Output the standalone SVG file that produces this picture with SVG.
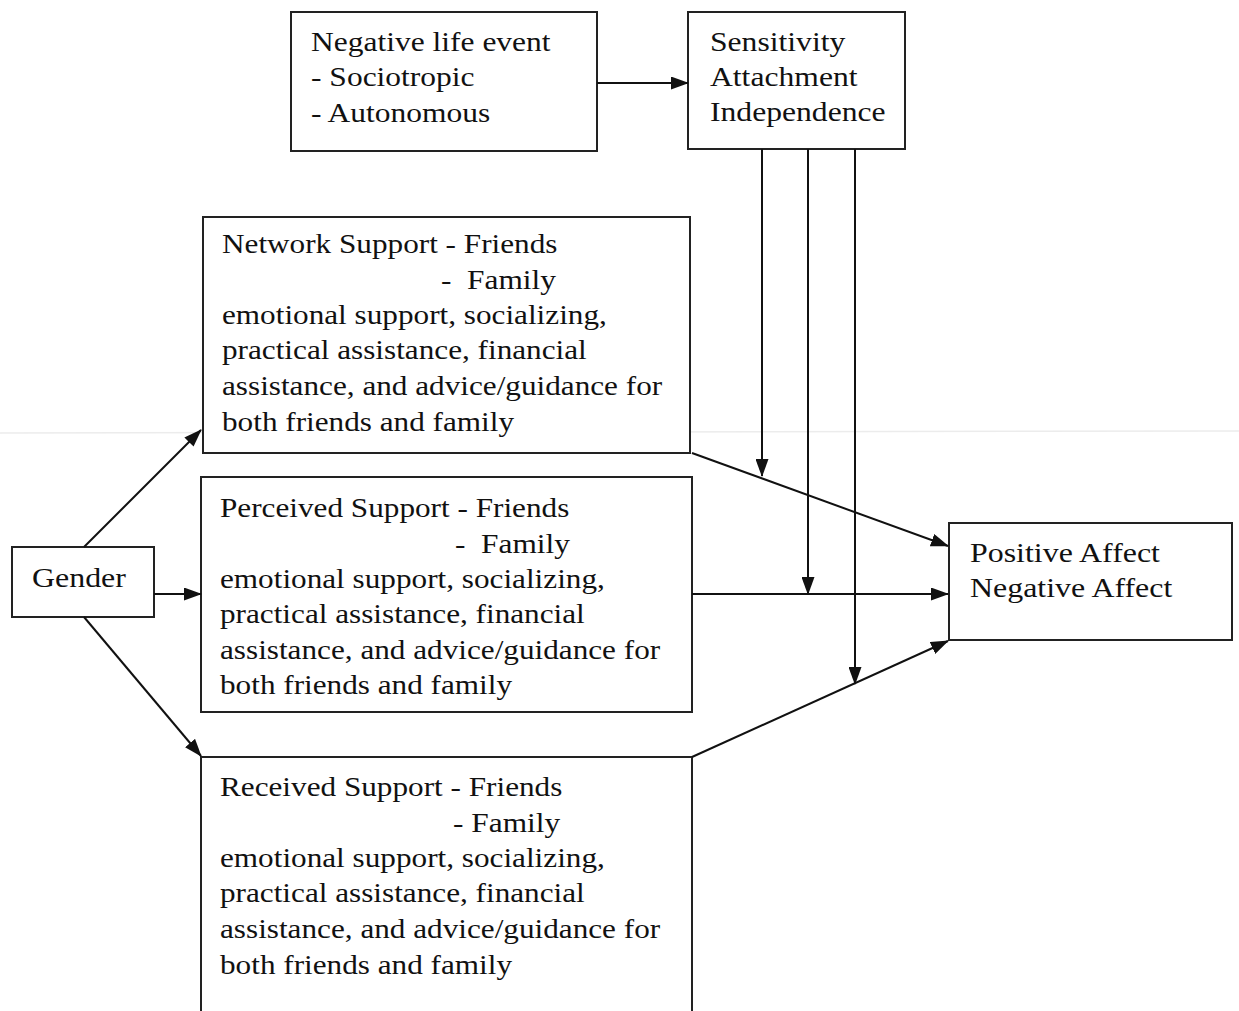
<svg xmlns="http://www.w3.org/2000/svg" width="1239" height="1011" viewBox="0 0 1239 1011">
<defs>
<marker id="ah" markerUnits="userSpaceOnUse" markerWidth="18" markerHeight="13" refX="17" refY="6.5" orient="auto">
<path d="M0,0 L18,6.5 L0,13 Z" fill="#111"/>
</marker>
<style>
.box{fill:#fff;stroke:#222;stroke-width:2}
.t{font-family:"Liberation Serif","Times New Roman",serif;font-size:28px;fill:#111}
.c{stroke:#111;stroke-width:2;fill:none}
</style>
</defs>
<rect width="1239" height="1011" fill="#fff"/>
<line x1="0" y1="433" x2="1239" y2="431" stroke="#ececec" stroke-width="1.5"/>
<g id="negative-life-event">
<rect class="box" x="291" y="12" width="306" height="139"/>
<text class="t" transform="translate(311,51) scale(1.125,1)">Negative life event</text>
<text class="t" transform="translate(311,86) scale(1.125,1)">- Sociotropic</text>
<text class="t" transform="translate(311,122) scale(1.125,1)">- Autonomous</text>
</g>
<g id="sensitivity">
<rect class="box" x="688" y="12" width="217" height="137"/>
<text class="t" transform="translate(710,51) scale(1.13,1)">Sensitivity</text>
<text class="t" transform="translate(710,86) scale(1.13,1)">Attachment</text>
<text class="t" transform="translate(710,121) scale(1.13,1)">Independence</text>
</g>
<g id="network-support">
<rect class="box" x="203" y="217" width="487" height="236"/>
<text class="t" transform="translate(222,253) scale(1.115,1)">Network Support - Friends</text>
<text class="t" xml:space="preserve" transform="translate(441,289) scale(1.12,1)">-  Family</text>
<text class="t" transform="translate(222,324) scale(1.115,1)">emotional support, socializing,</text>
<text class="t" transform="translate(222,359) scale(1.115,1)">practical assistance, financial</text>
<text class="t" transform="translate(222,395) scale(1.115,1)">assistance, and advice/guidance for</text>
<text class="t" transform="translate(222,431) scale(1.115,1)">both friends and family</text>
</g>
<g id="perceived-support">
<rect class="box" x="201" y="477" width="491" height="235"/>
<text class="t" transform="translate(220,517) scale(1.115,1)">Perceived Support - Friends</text>
<text class="t" xml:space="preserve" transform="translate(455,553) scale(1.12,1)">-  Family</text>
<text class="t" transform="translate(220,588) scale(1.115,1)">emotional support, socializing,</text>
<text class="t" transform="translate(220,623) scale(1.115,1)">practical assistance, financial</text>
<text class="t" transform="translate(220,659) scale(1.115,1)">assistance, and advice/guidance for</text>
<text class="t" transform="translate(220,694) scale(1.115,1)">both friends and family</text>
</g>
<g id="received-support">
<path class="box" d="M201,1012 L201,757 L692,757 L692,1012"/>
<text class="t" transform="translate(220,796) scale(1.115,1)">Received Support - Friends</text>
<text class="t" transform="translate(453,832) scale(1.12,1)">- Family</text>
<text class="t" transform="translate(220,867) scale(1.115,1)">emotional support, socializing,</text>
<text class="t" transform="translate(220,902) scale(1.115,1)">practical assistance, financial</text>
<text class="t" transform="translate(220,938) scale(1.115,1)">assistance, and advice/guidance for</text>
<text class="t" transform="translate(220,974) scale(1.115,1)">both friends and family</text>
</g>
<g id="gender">
<rect class="box" x="12" y="547" width="142" height="70"/>
<text class="t" transform="translate(32,587) scale(1.14,1)">Gender</text>
</g>
<g id="affect">
<rect class="box" x="949" y="523" width="283" height="117"/>
<text class="t" transform="translate(970,562) scale(1.14,1)">Positive Affect</text>
<text class="t" transform="translate(970,597) scale(1.14,1)">Negative Affect</text>
</g>
<g id="connectors">
<line class="c" x1="597" y1="83" x2="688" y2="83" marker-end="url(#ah)"/>
<line class="c" x1="84" y1="547" x2="201" y2="430" marker-end="url(#ah)"/>
<line class="c" x1="154" y1="594" x2="201" y2="594" marker-end="url(#ah)"/>
<line class="c" x1="84" y1="617" x2="201" y2="756" marker-end="url(#ah)"/>
<line class="c" x1="692" y1="453" x2="948" y2="546" marker-end="url(#ah)"/>
<line class="c" x1="692" y1="594" x2="948" y2="594" marker-end="url(#ah)"/>
<line class="c" x1="692" y1="757" x2="948" y2="641" marker-end="url(#ah)"/>
<line class="c" x1="762" y1="149" x2="762" y2="476" marker-end="url(#ah)"/>
<line class="c" x1="808" y1="149" x2="808" y2="594" marker-end="url(#ah)"/>
<line class="c" x1="855" y1="149" x2="855" y2="684" marker-end="url(#ah)"/>
</g>
</svg>
